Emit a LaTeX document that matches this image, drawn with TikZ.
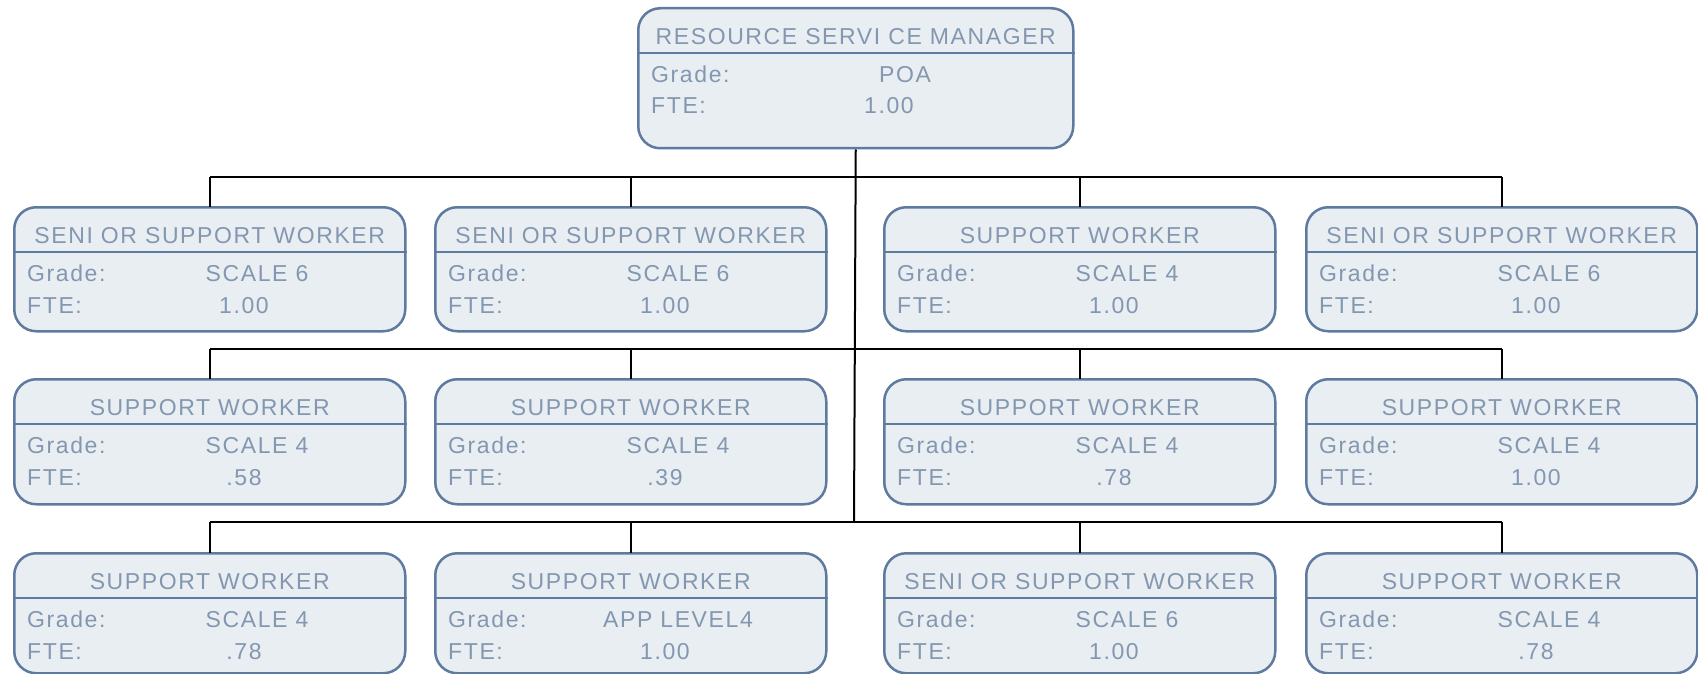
\documentclass[tikz,border=0pt]{standalone}
\usepackage{fontspec}
\setmainfont{Liberation Sans}[LetterSpace=7]
\definecolor{boxfill}{HTML}{E9EEF2}
\definecolor{boxline}{HTML}{5E7A9F}
\definecolor{boxtext}{HTML}{8397B1}
\tikzset{
  box/.style={draw=boxline, fill=boxfill, line width=2.5pt, rounded corners=22pt, inner sep=0pt},
  divider/.style={draw=boxline, line width=2.5pt},
  txt/.style={text=boxtext, inner sep=0pt, font=\fontsize{23}{27}\selectfont},
  conn/.style={draw=black, line width=2pt}
}
\newcommand\orgbox[7]{%
  \node[box, minimum width=391pt, minimum height=#4pt, anchor=north west] (#1) at (#2,#3) {};
  \draw[divider] ([yshift=-46pt]#1.north west) -- ([yshift=-46pt]#1.north east);
  \node[txt, anchor=base] (#1-t) at ([yshift=-37.5pt]#1.north) {#5};
  \node[txt, anchor=base west] (#1-gl) at ([xshift=14pt,yshift=-75.5pt]#1.north west) {Grade:};
  \node[txt, anchor=base] (#1-gv) at ([xshift=244pt,yshift=-75.5pt]#1.north west) {#6};
  \node[txt, anchor=base west] (#1-fl) at ([xshift=14pt,yshift=-107pt]#1.north west) {FTE:};
  \node[txt, anchor=base] (#1-fv) at ([xshift=231pt,yshift=-107pt]#1.north west) {#7};
}
\begin{document}
\begin{tikzpicture}[x=1pt,y=-1pt]
\useasboundingbox (0,0) rectangle (1698,674);
% bus coordinates
\coordinate (bus1) at (854,177);
\coordinate (bus2) at (854,349);
\coordinate (bus3) at (854,522);
% top box
\node[box, minimum width=435pt, minimum height=140pt, anchor=north west] (top) at (637,7) {};
\draw[divider] ([yshift=-46pt]top.north west) -- ([yshift=-46pt]top.north east);
\node[txt, anchor=base] (top-t) at ([yshift=-37.5pt]top.north) {RESOURCE SERVI CE MANAGER};
\node[txt, anchor=base west] (top-gl) at ([xshift=14pt,yshift=-75.5pt]top.north west) {Grade:};
\node[txt, anchor=base] (top-gv) at ([xshift=268pt,yshift=-75.5pt]top.north west) {POA};
\node[txt, anchor=base west] (top-fl) at ([xshift=14pt,yshift=-106.5pt]top.north west) {FTE:};
\node[txt, anchor=base] (top-fv) at ([xshift=252pt,yshift=-106.5pt]top.north west) {1.00};
% boxes
\orgbox{a1}{13}{206}{124}{SENI OR SUPPORT WORKER}{SCALE 6}{1.00}
\orgbox{a2}{434}{206}{124}{SENI OR SUPPORT WORKER}{SCALE 6}{1.00}
\orgbox{a3}{883}{206}{124}{SUPPORT WORKER}{SCALE 4}{1.00}
\orgbox{a4}{1305}{206}{124}{SENI OR SUPPORT WORKER}{SCALE 6}{1.00}
\orgbox{b1}{13}{378}{125}{SUPPORT WORKER}{SCALE 4}{.58}
\orgbox{b2}{434}{378}{125}{SUPPORT WORKER}{SCALE 4}{.39}
\orgbox{b3}{883}{378}{125}{SUPPORT WORKER}{SCALE 4}{.78}
\orgbox{b4}{1305}{378}{125}{SUPPORT WORKER}{SCALE 4}{1.00}
\orgbox{c1}{13}{552}{120}{SUPPORT WORKER}{SCALE 4}{.78}
\orgbox{c2}{434}{552}{120}{SUPPORT WORKER}{APP LEVEL4}{1.00}
\orgbox{c3}{883}{552}{120}{SENI OR SUPPORT WORKER}{SCALE 6}{1.00}
\orgbox{c4}{1305}{552}{120}{SUPPORT WORKER}{SCALE 4}{.78}
% connectors
\draw[conn] (top.south) -- (bus3);
\draw[conn] (a1.north |- bus1) -- (a4.north |- bus1);
\draw[conn] (b1.north |- bus2) -- (b4.north |- bus2);
\draw[conn] (c1.north |- bus3) -- (c4.north |- bus3);
\foreach \n/\b in {a1/bus1,a2/bus1,a3/bus1,a4/bus1,b1/bus2,b2/bus2,b3/bus2,b4/bus2,c1/bus3,c2/bus3,c3/bus3,c4/bus3}
  \draw[conn] (\n.north |- \b) -- ([yshift=-1pt]\n.north);
\end{tikzpicture}
\end{document}
